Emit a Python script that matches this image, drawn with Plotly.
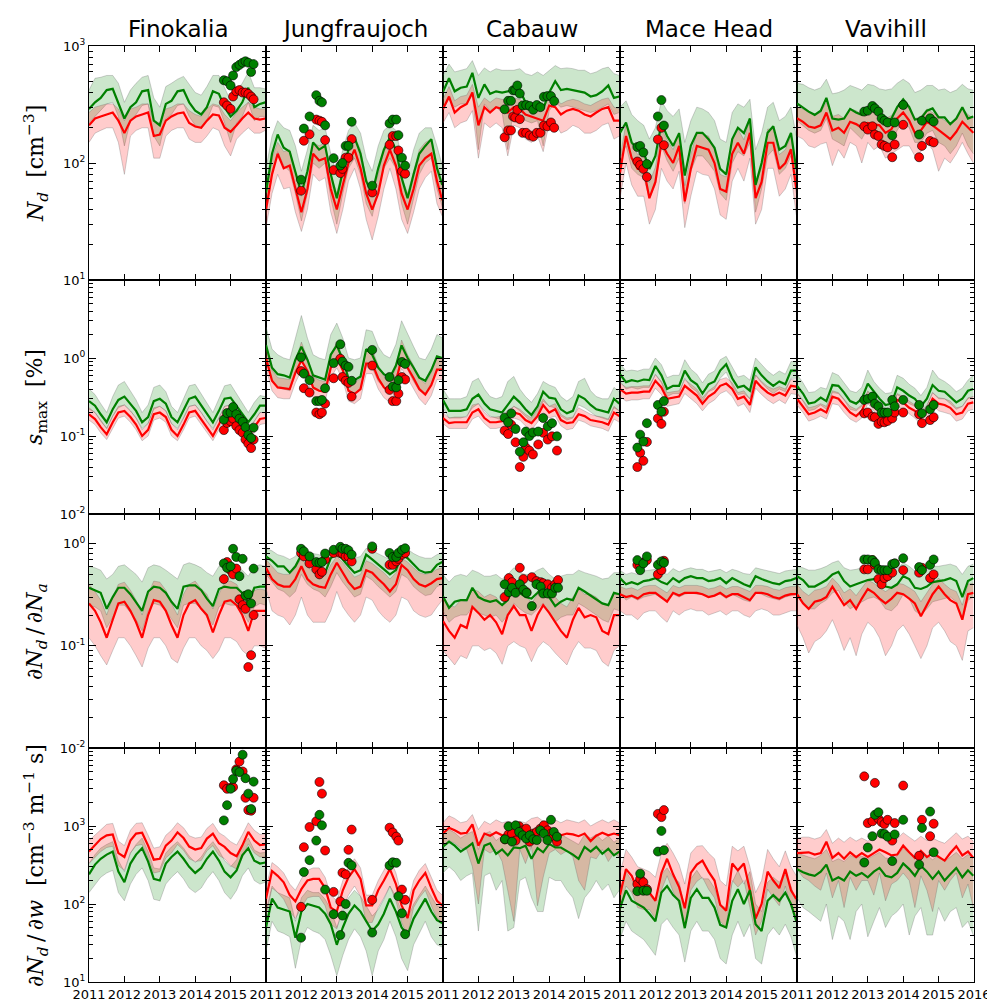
import plotly.graph_objects as go
from plotly.subplots import make_subplots

# time grid of the model series (decimal years, every two months)
t_grid = [2011.0, 2011.17, 2011.33, 2011.5, 2011.67, 2011.83,
          2012.0, 2012.17, 2012.33, 2012.5, 2012.67, 2012.83,
          2013.0, 2013.17, 2013.33, 2013.5, 2013.67, 2013.83,
          2014.0, 2014.17, 2014.33, 2014.5, 2014.67, 2014.83,
          2015.0, 2015.17, 2015.33, 2015.5, 2015.67, 2015.83, 2015.98]

stations = ["Finokalia", "Jungfraujoch", "Cabauw", "Mace Head", "Vavihill"]
years = [2011, 2012, 2013, 2014, 2015, 2016]

# ---------------- N_d ----------------
fin_nd_g = [290,330,360,420,430,330, 240,300,330,410,420,230, 210,320,340,410,420,330, 280,260,300,410,390,300, 250,280,330,440,300,320, 330]
fin_nd_g_hi = [420,530,540,560,560,480, 330,420,480,540,560,360, 300,450,480,520,550,470, 400,380,450,560,560,440, 340,420,480,600,440,440, 430]
fin_nd_g_lo = [220,250,280,320,330,250, 140,230,260,310,320,170, 140,240,260,310,320,250, 210,200,230,310,300,220, 150,220,250,330,230,250, 250]
fin_nd_r = [210,240,250,260,270,230, 180,230,250,260,270,170, 175,230,250,265,270,220, 205,200,230,260,255,200, 185,210,240,270,240,235, 240]
fin_nd_r_hi = [270,300,310,320,320,290, 230,290,300,320,320,230, 220,290,300,320,320,280, 260,250,290,320,310,260, 230,270,300,330,300,290, 290]
fin_nd_r_lo = [150,180,190,200,200,150, 80,170,190,200,200,110, 110,170,190,200,200,160, 150,150,170,200,190,140, 115,160,180,200,180,180, 190]

jfj_nd_g = [56,120,175,135,125,85, 55,85,150,130,140,80, 50,85,130,165,120,70, 55,90,130,165,130,75, 50,80,120,140,160,90, 65]
jfj_nd_g_hi = [90,170,230,200,190,140, 85,130,210,190,200,120, 80,130,190,220,180,110, 85,140,190,210,190,110, 80,130,180,200,200,140, 95]
jfj_nd_g_lo = [35,80,125,95,85,55, 32,55,100,90,100,50, 30,55,90,110,80,45, 35,60,90,110,90,45, 30,50,80,100,110,60, 42]
jfj_nd_r = [40,80,120,90,95,60, 38,60,120,105,110,60, 40,65,100,130,90,55, 40,55,95,130,95,55, 40,60,95,110,120,70, 48]
jfj_nd_r_hi = [55,110,150,125,130,85, 52,85,150,140,150,80, 55,90,140,170,130,75, 55,80,130,170,130,75, 55,85,130,150,160,100, 65]
jfj_nd_r_lo = [28,55,80,60,62,38, 26,40,80,70,75,38, 25,40,70,90,60,33, 22,35,60,90,60,33, 25,38,60,75,85,45, 35]

cab_nd_g = [405,530,410,440,450,590, 360,470,390,410,400,410, 420,420,330,310,320,290, 400,500,420,430,420,410, 400,370,380,410,460,360, 370]
cab_nd_g_hi = [560,700,600,620,640,750, 560,650,600,640,620,620, 620,640,580,560,600,560, 620,680,640,650,640,620, 620,580,600,640,660,580, 560]
cab_nd_g_lo = [290,350,300,320,320,380, 130,320,280,300,270,130, 300,290,230,220,230,140, 280,330,300,310,300,290, 280,270,280,300,320,260, 270]
cab_nd_r = [290,370,270,300,320,400, 210,300,270,300,290,270, 300,290,260,250,240,230, 310,300,260,280,290,280, 260,250,270,290,300,230, 230]
cab_nd_r_hi = [350,450,340,370,380,470, 300,360,330,360,350,340, 360,350,320,310,300,290, 370,370,320,340,350,340, 320,310,330,350,360,300, 290]
cab_nd_r_lo = [220,270,200,220,230,280, 110,220,200,220,200,115, 210,200,160,150,170,125, 220,220,180,190,210,200, 180,180,190,210,220,160, 170]

mhd_nd_g = [181,222,150,131,123,89, 115,220,170,140,180,78, 140,181,181,160,135,89, 80,160,200,180,240,65, 100,181,206,130,140,181, 89]
mhd_nd_g_hi = [300,340,260,230,210,160, 200,340,280,250,290,150, 230,300,290,270,230,160, 150,270,320,300,350,130, 180,300,330,230,250,300, 170]
mhd_nd_g_lo = [110,140,90,80,75,50, 65,140,105,85,110,45, 85,115,115,100,85,55, 48,100,125,115,150,38, 60,115,130,80,90,115, 55]
mhd_nd_r = [83,170,110,89,89,50, 69,149,120,100,140,47, 89,140,135,130,100,60, 57,120,149,120,181,50, 69,149,149,89,100,131, 60]
mhd_nd_r_hi = [110,220,145,118,118,68, 92,195,158,130,182,64, 118,182,176,170,130,80, 76,158,195,158,235,66, 92,195,195,118,130,170, 80]
mhd_nd_r_lo = [50,100,65,52,52,30, 40,90,70,60,85,28, 52,85,80,78,60,36, 33,70,90,70,110,30, 40,90,90,52,60,80, 36]

vav_nd_g = [323,295,275,258,280,360, 240,235,240,290,270,258, 300,295,270,225,240,300, 350,300,235,240,280,293, 245,245,215,240,300,240, 250]
vav_nd_g_hi = [480,470,440,420,440,520, 390,400,420,460,440,420, 470,460,430,420,430,480, 520,480,400,420,460,460, 420,430,400,420,470,430, 420]
vav_nd_g_lo = [230,210,190,180,190,240, 160,150,140,200,180,160, 200,190,170,140,150,190, 230,200,150,150,180,190, 150,140,120,140,180,140, 120]
vav_nd_r = [241,225,205,200,210,270, 190,200,181,225,215,200, 220,215,210,181,195,240, 270,230,181,190,225,210, 190,175,160,185,225,200, 181]
vav_nd_r_hi = [300,290,270,260,270,330, 250,260,240,290,280,260, 280,280,270,240,255,300, 330,290,240,250,290,270, 250,230,215,245,290,260, 240]
vav_nd_r_lo = [170,160,140,135,145,150, 95,130,110,150,140,100, 150,130,140,110,120,130, 140,140,115,125,150,130, 85,110,100,120,150,120, 100]

# ---------------- s_max [%] ----------------
fin_smax_g = [0.28,0.245,0.19,0.15,0.22,0.29, 0.32,0.26,0.21,0.15,0.175,0.28, 0.3,0.26,0.175,0.15,0.21,0.3, 0.32,0.245,0.19,0.15,0.21,0.3, 0.31,0.245,0.19,0.15,0.19,0.245, 0.245]
fin_smax_g_hi = [0.4,0.34,0.26,0.2,0.32,0.45, 0.5,0.38,0.29,0.2,0.25,0.42, 0.45,0.37,0.24,0.2,0.3,0.44, 0.46,0.35,0.26,0.2,0.3,0.44, 0.46,0.35,0.26,0.2,0.27,0.33, 0.32]
fin_smax_g_lo = [0.22,0.2,0.155,0.125,0.18,0.23, 0.25,0.21,0.17,0.125,0.145,0.22, 0.24,0.21,0.145,0.125,0.17,0.24, 0.25,0.2,0.155,0.125,0.17,0.24, 0.25,0.2,0.155,0.125,0.155,0.2, 0.2]
fin_smax_r = [0.19,0.165,0.13,0.105,0.15,0.2, 0.21,0.175,0.14,0.1,0.12,0.19, 0.2,0.175,0.12,0.1,0.14,0.2, 0.21,0.165,0.13,0.1,0.14,0.2, 0.21,0.165,0.13,0.1,0.13,0.165, 0.17]
fin_smax_r_hi = [0.23,0.2,0.16,0.125,0.18,0.24, 0.25,0.21,0.17,0.12,0.145,0.23, 0.24,0.21,0.145,0.12,0.17,0.24, 0.25,0.2,0.155,0.12,0.17,0.24, 0.25,0.2,0.155,0.12,0.155,0.2, 0.2]
fin_smax_r_lo = [0.16,0.14,0.11,0.09,0.125,0.17, 0.18,0.15,0.12,0.087,0.1,0.16, 0.17,0.15,0.1,0.087,0.12,0.17, 0.18,0.14,0.11,0.087,0.12,0.17, 0.18,0.14,0.11,0.087,0.11,0.14, 0.145]

jfj_smax_g = [1.47,0.75,0.62,0.6,0.56,0.95, 1.4,0.95,0.6,0.56,0.53,1.1, 1.45,0.95,0.55,0.52,0.58,1.3, 1.1,0.75,0.62,0.56,0.8,1.45, 1.0,0.75,0.56,0.51,0.7,1.05, 1.0]
jfj_smax_g_hi = [2.5,1.3,1.1,1.0,0.95,1.8, 3.5,1.8,1.1,1.0,0.95,2.0, 2.8,1.8,1.0,0.95,1.0,2.3, 2.2,1.4,1.1,1.0,1.5,3.0, 2.0,1.4,1.0,0.95,1.3,2.0, 1.8]
jfj_smax_g_lo = [1.0,0.5,0.42,0.4,0.38,0.62, 0.95,0.65,0.4,0.38,0.36,0.75, 1.0,0.65,0.38,0.35,0.4,0.9, 0.75,0.5,0.42,0.38,0.55,1.0, 0.7,0.5,0.38,0.35,0.48,0.72, 0.7]
jfj_smax_r = [1.0,0.51,0.42,0.41,0.4,0.65, 0.93,0.68,0.42,0.38,0.37,0.75, 1.0,0.7,0.38,0.345,0.4,0.85, 0.85,0.55,0.42,0.36,0.5,0.98, 0.75,0.55,0.4,0.34,0.45,0.71, 0.71]
jfj_smax_r_hi = [1.3,0.7,0.56,0.55,0.53,0.9, 1.6,1.0,0.58,0.52,0.5,1.1, 1.6,1.0,0.52,0.48,0.55,1.3, 1.3,0.8,0.58,0.5,0.75,1.7, 1.1,0.8,0.55,0.47,0.65,1.0, 1.0]
jfj_smax_r_lo = [0.75,0.38,0.31,0.3,0.3,0.48, 0.7,0.5,0.31,0.28,0.28,0.56, 0.75,0.52,0.28,0.26,0.3,0.63, 0.63,0.4,0.31,0.27,0.37,0.73, 0.55,0.4,0.3,0.25,0.33,0.53, 0.53]

cab_smax_g = [0.29,0.21,0.21,0.21,0.22,0.3, 0.34,0.26,0.22,0.21,0.2,0.25, 0.32,0.27,0.22,0.186,0.24,0.37, 0.31,0.3,0.22,0.195,0.21,0.33, 0.3,0.25,0.22,0.21,0.2,0.3, 0.26]
cab_smax_g_hi = [0.4,0.3,0.3,0.3,0.32,0.5, 0.55,0.4,0.32,0.3,0.32,0.5, 0.58,0.4,0.32,0.27,0.35,0.5, 0.45,0.42,0.32,0.28,0.32,0.5, 0.55,0.38,0.32,0.3,0.3,0.42, 0.37]
cab_smax_g_lo = [0.23,0.17,0.17,0.17,0.18,0.23, 0.26,0.21,0.18,0.17,0.16,0.19, 0.24,0.21,0.18,0.15,0.19,0.28, 0.24,0.23,0.18,0.16,0.17,0.25, 0.23,0.2,0.18,0.17,0.16,0.23, 0.21]
cab_smax_r = [0.17,0.146,0.15,0.15,0.15,0.2, 0.22,0.17,0.15,0.15,0.155,0.17, 0.2,0.19,0.16,0.146,0.18,0.25, 0.2,0.22,0.16,0.146,0.15,0.19, 0.18,0.16,0.155,0.15,0.14,0.2, 0.18]
cab_smax_r_hi = [0.2,0.17,0.175,0.175,0.175,0.25, 0.26,0.2,0.175,0.175,0.18,0.21, 0.24,0.22,0.19,0.17,0.22,0.3, 0.24,0.26,0.19,0.17,0.175,0.23, 0.21,0.19,0.18,0.175,0.165,0.24, 0.21]
cab_smax_r_lo = [0.145,0.125,0.125,0.125,0.125,0.165, 0.18,0.145,0.125,0.125,0.13,0.14, 0.17,0.16,0.135,0.12,0.15,0.2, 0.17,0.18,0.135,0.12,0.125,0.16, 0.15,0.135,0.13,0.125,0.115,0.165, 0.15]

mhd_smax_g = [0.62,0.49,0.52,0.5,0.53,0.52, 0.79,0.6,0.4,0.44,0.44,0.69, 0.52,0.46,0.35,0.46,0.5,0.69, 0.83,0.55,0.42,0.44,0.38,0.76, 0.6,0.5,0.44,0.5,0.46,0.69, 0.69]
mhd_smax_g_hi = [0.85,0.68,0.7,0.68,0.72,0.72, 1.0,0.82,0.56,0.6,0.6,0.95, 0.72,0.62,0.48,0.62,0.68,0.95, 1.05,0.75,0.57,0.6,0.52,1.0, 0.82,0.68,0.6,0.68,0.62,0.9, 0.9]
mhd_smax_g_lo = [0.5,0.4,0.42,0.4,0.42,0.42, 0.62,0.48,0.32,0.35,0.35,0.55, 0.42,0.37,0.28,0.37,0.4,0.55, 0.66,0.44,0.34,0.35,0.3,0.6, 0.48,0.4,0.35,0.4,0.37,0.55, 0.55]
mhd_smax_r = [0.4,0.35,0.36,0.36,0.37,0.37, 0.51,0.42,0.3,0.31,0.32,0.44, 0.38,0.33,0.26,0.32,0.36,0.44, 0.47,0.4,0.3,0.32,0.25,0.51, 0.42,0.36,0.33,0.36,0.33,0.44, 0.43]
mhd_smax_r_hi = [0.48,0.42,0.43,0.43,0.44,0.44, 0.61,0.5,0.36,0.37,0.38,0.53, 0.46,0.4,0.31,0.38,0.43,0.53, 0.56,0.48,0.36,0.38,0.3,0.61, 0.5,0.43,0.4,0.43,0.4,0.53, 0.52]
mhd_smax_r_lo = [0.32,0.28,0.29,0.29,0.3,0.3, 0.41,0.34,0.24,0.25,0.26,0.35, 0.3,0.26,0.21,0.26,0.29,0.35, 0.38,0.32,0.24,0.26,0.2,0.41, 0.34,0.29,0.26,0.29,0.26,0.35, 0.34]

vav_smax_g = [0.44,0.35,0.26,0.27,0.31,0.28, 0.45,0.44,0.36,0.28,0.26,0.3, 0.47,0.37,0.3,0.25,0.26,0.42, 0.38,0.33,0.3,0.24,0.3,0.45, 0.38,0.37,0.32,0.27,0.3,0.38, 0.4]
vav_smax_g_hi = [0.62,0.48,0.36,0.37,0.42,0.4, 0.65,0.6,0.48,0.38,0.36,0.42, 0.7,0.5,0.41,0.35,0.36,0.6, 0.55,0.46,0.41,0.33,0.42,0.7, 0.55,0.5,0.44,0.37,0.41,0.52, 0.6]
vav_smax_g_lo = [0.35,0.28,0.21,0.22,0.25,0.22, 0.36,0.35,0.29,0.22,0.21,0.24, 0.37,0.3,0.24,0.2,0.21,0.34, 0.3,0.26,0.24,0.19,0.24,0.36, 0.3,0.3,0.26,0.22,0.24,0.3, 0.32]
vav_smax_r = [0.3,0.24,0.19,0.2,0.22,0.2, 0.32,0.3,0.25,0.2,0.18,0.21, 0.32,0.26,0.21,0.17,0.18,0.29, 0.27,0.23,0.21,0.17,0.21,0.3, 0.26,0.25,0.23,0.19,0.2,0.26, 0.27]
vav_smax_r_hi = [0.36,0.29,0.23,0.24,0.26,0.24, 0.38,0.36,0.3,0.24,0.22,0.25, 0.38,0.31,0.25,0.2,0.22,0.35, 0.32,0.28,0.25,0.2,0.25,0.36, 0.31,0.3,0.28,0.23,0.24,0.31, 0.32]
vav_smax_r_lo = [0.25,0.2,0.155,0.165,0.18,0.165, 0.26,0.25,0.2,0.165,0.15,0.17, 0.26,0.21,0.17,0.14,0.15,0.24, 0.22,0.19,0.17,0.14,0.17,0.25, 0.21,0.2,0.19,0.155,0.165,0.21, 0.22]

# ---------------- dN_d/dN_a ----------------
fin_dnda_g = [0.37,0.35,0.33,0.23,0.3,0.37, 0.37,0.32,0.27,0.22,0.34,0.38, 0.37,0.33,0.27,0.23,0.38,0.39, 0.39,0.35,0.29,0.245,0.36,0.38, 0.37,0.37,0.33,0.26,0.37,0.38, 0.38]
fin_dnda_g_hi = [0.6,0.58,0.55,0.45,0.5,0.6, 0.62,0.55,0.5,0.42,0.58,0.62, 0.6,0.55,0.5,0.45,0.62,0.65, 0.62,0.58,0.52,0.48,0.6,0.62, 0.62,0.6,0.55,0.48,0.6,0.62, 0.6]
fin_dnda_g_lo = [0.25,0.24,0.22,0.15,0.19,0.25, 0.25,0.21,0.18,0.14,0.22,0.26, 0.25,0.22,0.18,0.15,0.25,0.26, 0.26,0.23,0.19,0.16,0.24,0.26, 0.25,0.25,0.22,0.17,0.24,0.26, 0.25]
fin_dnda_r = [0.26,0.22,0.17,0.12,0.18,0.26, 0.27,0.22,0.17,0.12,0.2,0.28, 0.27,0.22,0.16,0.12,0.2,0.26, 0.28,0.23,0.2,0.135,0.2,0.27, 0.28,0.25,0.2,0.14,0.22,0.22, 0.22]
fin_dnda_r_hi = [0.4,0.34,0.28,0.2,0.3,0.4, 0.42,0.35,0.28,0.2,0.32,0.43, 0.42,0.35,0.26,0.2,0.32,0.4, 0.43,0.36,0.32,0.23,0.32,0.42, 0.43,0.4,0.32,0.24,0.35,0.36, 0.35]
fin_dnda_r_lo = [0.12,0.1,0.08,0.065,0.09,0.12, 0.12,0.1,0.08,0.062,0.095,0.12, 0.12,0.1,0.075,0.068,0.095,0.12, 0.12,0.1,0.09,0.075,0.09,0.12, 0.12,0.11,0.09,0.08,0.1,0.1, 0.095]

jfj_dnda_g = [0.75,0.68,0.6,0.6,0.52,0.6, 0.78,0.66,0.63,0.6,0.52,0.72, 0.8,0.7,0.6,0.52,0.55,0.78, 0.7,0.62,0.56,0.5,0.55,0.78, 0.72,0.62,0.55,0.52,0.53,0.62, 0.66]
jfj_dnda_g_hi = [0.9,0.85,0.78,0.75,0.7,0.75, 0.92,0.85,0.8,0.78,0.72,0.82, 0.92,0.85,0.78,0.72,0.75,0.9, 0.85,0.8,0.75,0.7,0.75,0.9, 0.88,0.8,0.75,0.72,0.72,0.78, 0.82]
jfj_dnda_g_lo = [0.5,0.42,0.36,0.34,0.3,0.34, 0.5,0.4,0.36,0.34,0.3,0.38, 0.52,0.42,0.36,0.3,0.32,0.48, 0.44,0.38,0.34,0.3,0.34,0.5, 0.46,0.38,0.34,0.31,0.32,0.38, 0.4]
jfj_dnda_r = [0.58,0.45,0.4,0.38,0.38,0.45, 0.6,0.45,0.4,0.38,0.37,0.5, 0.65,0.52,0.42,0.36,0.38,0.55, 0.52,0.45,0.4,0.34,0.4,0.62, 0.55,0.45,0.4,0.38,0.41,0.45, 0.46]
jfj_dnda_r_hi = [0.7,0.6,0.52,0.5,0.5,0.58, 0.72,0.6,0.52,0.5,0.48,0.62, 0.75,0.65,0.55,0.47,0.5,0.68, 0.64,0.58,0.52,0.45,0.52,0.72, 0.66,0.58,0.52,0.5,0.52,0.56, 0.58]
jfj_dnda_r_lo = [0.36,0.22,0.2,0.19,0.16,0.2, 0.3,0.2,0.17,0.17,0.17,0.22, 0.34,0.24,0.2,0.17,0.2,0.3, 0.28,0.22,0.19,0.17,0.2,0.3, 0.28,0.22,0.2,0.19,0.2,0.24, 0.28]

cab_dnda_g = [0.305,0.235,0.27,0.28,0.28,0.37, 0.3,0.28,0.27,0.28,0.25,0.28, 0.38,0.33,0.3,0.29,0.33,0.38, 0.3,0.245,0.27,0.29,0.28,0.37, 0.34,0.31,0.29,0.26,0.25,0.33, 0.32]
cab_dnda_g_hi = [0.5,0.42,0.48,0.5,0.48,0.55, 0.52,0.48,0.48,0.5,0.45,0.5, 0.58,0.52,0.5,0.5,0.55,0.58, 0.5,0.45,0.48,0.5,0.5,0.55, 0.52,0.5,0.48,0.45,0.46,0.52, 0.52]
cab_dnda_g_lo = [0.22,0.17,0.19,0.2,0.2,0.24, 0.21,0.2,0.19,0.2,0.17,0.2, 0.26,0.23,0.21,0.2,0.23,0.26, 0.21,0.17,0.19,0.2,0.2,0.26, 0.24,0.22,0.2,0.18,0.17,0.23, 0.22]
cab_dnda_r = [0.175,0.14,0.12,0.16,0.15,0.24, 0.21,0.18,0.2,0.17,0.13,0.2, 0.245,0.2,0.2,0.14,0.2,0.25, 0.21,0.17,0.14,0.12,0.18,0.235, 0.19,0.2,0.19,0.14,0.13,0.2, 0.2]
cab_dnda_r_hi = [0.3,0.25,0.24,0.28,0.27,0.36, 0.34,0.3,0.32,0.3,0.25,0.32, 0.36,0.32,0.32,0.26,0.32,0.36, 0.33,0.3,0.26,0.24,0.3,0.36, 0.32,0.32,0.3,0.26,0.25,0.32, 0.32]
cab_dnda_r_lo = [0.09,0.075,0.065,0.08,0.075,0.1, 0.1,0.09,0.095,0.085,0.066,0.1, 0.11,0.1,0.095,0.07,0.095,0.11, 0.1,0.085,0.075,0.065,0.09,0.11, 0.095,0.095,0.09,0.07,0.063,0.09, 0.1]

mhd_dnda_g = [0.46,0.4,0.42,0.4,0.43,0.44, 0.46,0.42,0.4,0.46,0.42,0.46, 0.48,0.46,0.46,0.43,0.44,0.46, 0.41,0.46,0.43,0.4,0.38,0.48, 0.45,0.43,0.41,0.4,0.43,0.44, 0.46]
mhd_dnda_g_hi = [0.55,0.5,0.52,0.5,0.54,0.55, 0.56,0.53,0.5,0.57,0.53,0.56, 0.58,0.56,0.56,0.53,0.55,0.56, 0.52,0.56,0.54,0.51,0.5,0.58, 0.56,0.54,0.52,0.51,0.54,0.55, 0.56]
mhd_dnda_g_lo = [0.33,0.28,0.3,0.28,0.3,0.31, 0.32,0.29,0.28,0.32,0.3,0.32, 0.33,0.32,0.32,0.3,0.31,0.32, 0.29,0.32,0.3,0.28,0.27,0.33, 0.32,0.3,0.29,0.28,0.3,0.31, 0.32]
mhd_dnda_r = [0.32,0.3,0.31,0.29,0.32,0.33, 0.33,0.3,0.27,0.33,0.31,0.33, 0.33,0.33,0.32,0.3,0.31,0.33, 0.3,0.32,0.32,0.3,0.28,0.33, 0.33,0.32,0.3,0.29,0.31,0.32, 0.32]
mhd_dnda_r_hi = [0.38,0.36,0.37,0.35,0.38,0.39, 0.39,0.36,0.33,0.39,0.37,0.39, 0.39,0.39,0.38,0.36,0.37,0.39, 0.36,0.38,0.38,0.36,0.34,0.39, 0.39,0.38,0.36,0.35,0.37,0.38, 0.38]
mhd_dnda_r_lo = [0.22,0.2,0.2,0.18,0.21,0.22, 0.22,0.19,0.17,0.22,0.2,0.22, 0.23,0.22,0.22,0.2,0.21,0.22, 0.2,0.22,0.22,0.2,0.19,0.22, 0.23,0.22,0.2,0.2,0.21,0.22, 0.22]

vav_dnda_g = [0.48,0.44,0.38,0.38,0.41,0.44, 0.5,0.53,0.43,0.38,0.4,0.42, 0.44,0.45,0.43,0.38,0.37,0.4, 0.48,0.45,0.37,0.36,0.38,0.42, 0.43,0.44,0.46,0.43,0.3,0.43, 0.46]
vav_dnda_g_hi = [0.6,0.58,0.55,0.55,0.57,0.6, 0.65,0.68,0.58,0.55,0.56,0.58, 0.62,0.62,0.6,0.55,0.53,0.57, 0.65,0.6,0.54,0.52,0.55,0.6, 0.6,0.62,0.63,0.6,0.5,0.6, 0.63]
vav_dnda_g_lo = [0.3,0.27,0.23,0.23,0.26,0.28, 0.33,0.35,0.27,0.23,0.25,0.27, 0.29,0.3,0.28,0.23,0.22,0.25, 0.32,0.29,0.22,0.2,0.23,0.27, 0.28,0.29,0.3,0.27,0.18,0.28, 0.3]
vav_dnda_r = [0.32,0.26,0.23,0.27,0.28,0.3, 0.38,0.31,0.25,0.28,0.23,0.29, 0.36,0.33,0.29,0.26,0.29,0.33, 0.32,0.29,0.26,0.195,0.25,0.32, 0.38,0.32,0.28,0.26,0.18,0.32, 0.33]
vav_dnda_r_hi = [0.4,0.34,0.31,0.35,0.36,0.38, 0.46,0.4,0.33,0.36,0.31,0.37, 0.44,0.41,0.37,0.34,0.37,0.41, 0.4,0.37,0.34,0.27,0.33,0.4, 0.46,0.4,0.36,0.34,0.25,0.4, 0.41]
vav_dnda_r_lo = [0.16,0.12,0.085,0.11,0.12,0.14, 0.18,0.13,0.09,0.12,0.08,0.13, 0.17,0.15,0.12,0.08,0.1,0.14, 0.16,0.13,0.1,0.075,0.1,0.15, 0.17,0.14,0.11,0.1,0.072,0.14, 0.15]

# ---------------- dN_d/dw ----------------
fin_dndw_r = [470,560,680,760,780,450, 400,650,800,820,560,370, 380,560,650,830,700,545, 500,520,690,800,600,540, 450,410,560,840,650,570, 580]
fin_dndw_r_hi = [650,760,900,1050,1080,640, 560,880,1080,1100,760,520, 540,760,880,1100,950,750, 700,720,930,1080,820,740, 630,570,770,1100,880,780, 790]
fin_dndw_r_lo = [330,390,470,530,550,310, 270,450,560,580,390,250, 260,390,450,580,490,380, 350,360,480,560,420,380, 310,280,390,590,450,400, 400]
fin_dndw_g = [240,320,380,430,470,260, 190,330,430,520,350,210, 200,330,400,470,380,300, 250,290,380,470,360,260, 220,270,420,520,360,330, 340]
fin_dndw_g_hi = [330,430,520,580,630,360, 260,450,580,700,470,290, 280,450,540,630,520,410, 340,400,520,630,490,360, 300,370,570,700,490,450, 460]
fin_dndw_g_lo = [140,180,220,250,270,140, 110,180,240,290,200,115, 110,180,220,260,210,160, 140,160,210,260,200,140, 115,150,230,290,200,180, 190]

jfj_dndw_r = [117,265,230,190,130,108, 155,200,210,210,160,90, 80,150,220,280,210,96, 96,150,200,280,180,96, 66,150,200,250,160,110, 96]
jfj_dndw_r_hi = [160,340,300,250,180,150, 210,270,290,290,220,130, 110,200,300,380,290,130, 130,200,270,380,250,130, 100,200,270,330,220,150, 130]
jfj_dndw_r_lo = [70,160,140,115,80,65, 90,120,125,125,95,55, 48,90,130,170,125,58, 58,90,120,170,110,58, 40,90,120,150,95,66, 58]
jfj_dndw_g = [50,117,90,85,80,37, 80,100,95,90,75,55, 30,50,75,96,80,60, 45,55,75,117,80,50, 40,65,85,117,80,62, 57]
jfj_dndw_g_hi = [80,170,140,130,120,60, 120,150,140,140,115,85, 50,80,120,150,125,95, 70,85,115,170,125,80, 65,100,130,170,125,95, 90]
jfj_dndw_g_lo = [25,60,45,42,38,15, 35,50,45,42,35,22, 12,22,35,48,38,25, 12,25,35,60,38,20, 14,30,42,60,38,30, 28]

cab_dndw_r = [800,950,880,800,820,1050, 560,800,750,830,760,800, 780,800,760,850,870,780, 790,830,760,800,780,740, 800,640,750,820,760,800, 760]
cab_dndw_r_hi = [1100,1350,1250,1100,1150,1400, 900,1150,1050,1200,1100,1150, 1100,1150,1100,1250,1300,1150, 1150,1200,1100,1200,1150,1100, 1200,1000,1100,1200,1100,1200, 1100]
cab_dndw_r_lo = [550,650,600,520,500,300, 100,500,450,500,350,150, 60,500,330,550,95,220, 450,500,430,480,400,200, 150,400,380,500,350,450, 400]
cab_dndw_g = [545,630,560,470,530,600, 330,560,600,440,500,420, 530,520,560,380,520,460, 590,530,530,480,430,380, 540,470,540,440,510,420, 470]
cab_dndw_g_hi = [800,900,820,700,780,850, 500,800,850,650,750,620, 780,770,800,580,760,680, 850,770,780,700,640,580, 780,700,780,650,750,620, 700]
cab_dndw_g_lo = [250,300,260,200,230,250, 45,230,250,150,200,45, 50,200,220,120,80,80, 220,200,200,150,120,65, 120,150,200,150,180,120, 150]

mhd_dndw_r = [130,280,230,150,140,140, 110,250,380,240,165,88, 250,320,360,260,200,98, 82,330,270,330,150,65, 100,260,200,160,280,150, 116]
mhd_dndw_r_hi = [250,500,400,300,280,260, 220,450,600,450,320,180, 450,550,560,450,380,200, 170,550,480,550,300,140, 200,500,380,300,480,300, 230]
mhd_dndw_r_lo = [80,170,140,90,85,85, 65,150,230,145,100,53, 150,195,220,155,120,60, 50,200,165,200,90,40, 60,155,120,95,170,90, 70]
mhd_dndw_g = [88,150,110,100,90,75, 60,140,170,130,110,49, 120,155,120,120,90,54, 50,110,155,100,150,55, 45,110,130,110,140,100, 60]
mhd_dndw_g_hi = [150,260,200,170,160,130, 110,240,290,220,190,90, 210,270,210,210,160,95, 90,190,270,180,260,100, 80,190,220,190,240,170, 105]
mhd_dndw_g_lo = [35,60,45,40,35,28, 22,55,65,50,40,18, 45,60,45,45,35,20, 17,40,60,38,55,20, 17,40,50,40,55,38, 22]

vav_dndw_r = [450,450,460,430,450,630, 390,450,380,460,400,450, 400,450,500,460,420,430, 560,460,390,480,400,450, 400,360,450,550,420,470, 390]
vav_dndw_r_hi = [700,720,720,680,720,900, 600,700,620,720,640,700, 640,700,760,700,660,680, 820,720,640,740,650,700, 640,600,700,820,680,740, 640]
vav_dndw_r_lo = [280,220,200,170,150,250, 120,200,90,220,150,200, 200,130,250,110,180,200, 250,200,90,230,150,80, 200,150,200,250,120,180, 90]
vav_dndw_g = [280,255,240,230,260,320, 200,220,200,260,230,250, 220,260,290,230,220,250, 330,280,230,310,260,210, 260,200,240,290,220,270, 230]
vav_dndw_g_hi = [450,420,400,380,420,500, 350,380,350,420,390,410, 380,420,460,390,380,410, 520,450,390,480,420,370, 420,350,400,460,380,430, 390]
vav_dndw_g_lo = [120,90,80,70,60,100, 35,70,60,35,80,100, 38,60,90,50,70,80, 100,40,70,90,40,40, 90,60,80,90,50,60, 40]

# ---------------- observation-based points ----------------
fin_obs_t = [2014.81, 2014.9, 2015.0, 2015.07, 2015.16, 2015.25, 2015.34, 2015.42, 2015.5, 2015.58, 2015.65]
fin_nd_obs_g = [510, 500, 460, 560, 660, 690, 720, 740, 720, 600, 700]
fin_nd_obs_r = [330, 310, 290, 370, 410, 420, 400, 400, 390, 370, 350]
fin_smax_obs_g = [0.162, 0.197, 0.2, 0.235, 0.19, 0.167, 0.152, 0.13, 0.103, 0.094, 0.128]
fin_smax_obs_r = [0.119, 0.147, 0.155, 0.167, 0.134, 0.119, 0.11, 0.09, 0.08, 0.07, 0.09]
fin_dnda_obs_g = [0.64, 0.58, 0.6, 0.89, 0.74, 0.48, 0.71, 0.31, 0.32, 0.26, 0.57]
fin_dnda_obs_r = [0.45, 0.66, 0.55, 0.5, 0.57, 0.285, 0.25, 0.23, 0.062, 0.081, 0.2]
fin_dndw_obs_g = [1180, 1850, 3000, 4000, 5100, 4900, 8200, 4100, 2600, 1650, 3700]
fin_dndw_obs_r = [3330, 3000, 3100, 3150, 5330, 6700, 5000, 2300, 1600, 1570, 2300]

jfj_obs_t = [2011.99, 2012.07, 2012.23, 2012.42, 2012.51, 2012.58, 2012.67, 2012.91, 2013.1, 2013.16,
             2013.25, 2013.33, 2013.42, 2014.0, 2014.49, 2014.58, 2014.68, 2014.74, 2014.84, 2014.93]
jfj_nd_obs_g = [72, 197, 250, 380, 340, 330, 210, 110, 95, 100, 140, 140, 225, 64, 218, 235, 235, 173, 111, 95]
jfj_nd_obs_r = [58, 155, 176, 235, 230, 225, 157, 87, 82, 89, 111, 111, 160, 56, 143, 170, 170, 128, 85, 81]
jfj_smax_obs_g = [1.02, 0.63, 0.52, 0.28, 0.28, 0.29, 0.41, 0.86, 1.5, 0.9, 0.8, 0.77, 0.51, 1.27, 0.57, 0.43, 0.42, 0.52, 0.89, 0.84]
jfj_smax_obs_r = [0.68, 0.41, 0.36, 0.2, 0.19, 0.2, 0.26, 0.55, 0.98, 0.57, 0.51, 0.48, 0.32, 0.8, 0.39, 0.28, 0.28, 0.35, 0.57, 0.53]
jfj_dnda_obs_g = [0.89, 0.84, 0.75, 0.66, 0.65, 0.66, 0.8, 0.87, 0.93, 0.89, 0.89, 0.86, 0.78, 0.94, 0.81, 0.74, 0.74, 0.81, 0.87, 0.9]
jfj_dnda_obs_r = [0.81, 0.75, 0.64, 0.56, 0.5, 0.53, 0.7, 0.81, 0.81, 0.8, 0.75, 0.75, 0.67, 0.89, 0.62, 0.62, 0.67, 0.71, 0.78, 0.81]
jfj_dndw_obs_g = [37, 257, 365, 650, 1390, 1020, 153, 74, 40, 71, 100, 337, 312, 43, 312, 343, 337, 126, 76, 41]
jfj_dndw_obs_r = [92, 535, 970, 1150, 3670, 2600, 485, 143, 108, 252, 240, 495, 900, 113, 950, 825, 730, 650, 153, 113]

cab_nd_obs_t = [2012.74, 2012.84, 2012.92, 2012.98, 2013.04, 2013.1, 2013.17, 2013.25, 2013.35, 2013.45,
                2013.55, 2013.65, 2013.75, 2013.85, 2013.95, 2014.05, 2014.14]
cab_nd_obs_g = [288, 340, 340, 418, 418, 460, 392, 310, 313, 307, 285, 313, 300, 368, 373, 373, 338]
cab_nd_obs_r = [166, 190, 190, 250, 245, 285, 237, 181, 181, 172, 168, 181, 181, 209, 206, 222, 200]
cab_smax_obs_t = [2012.74, 2012.84, 2012.93, 2013.05, 2013.17, 2013.27, 2013.34, 2013.44, 2013.54, 2013.69,
                  2013.83, 2013.96, 2014.08, 2014.22]
cab_smax_obs_g = [0.172, 0.15, 0.195, 0.123, 0.063, 0.083, 0.114, 0.1, 0.111, 0.114, 0.17, 0.133, 0.146, 0.099]
cab_smax_obs_r = [0.117, 0.106, 0.139, 0.083, 0.04, 0.054, 0.071, 0.065, 0.058, 0.078, 0.11, 0.09, 0.099, 0.065]
cab_dnda_obs_t = [2012.74, 2012.86, 2012.95, 2013.05, 2013.17, 2013.27, 2013.36, 2013.51, 2013.64, 2013.76,
                  2013.83, 2013.96, 2014.08, 2014.17, 2014.25]
cab_dnda_obs_g = [0.4, 0.335, 0.37, 0.33, 0.4, 0.355, 0.33, 0.245, 0.4, 0.38, 0.325, 0.325, 0.325, 0.37, 0.37]
cab_dnda_obs_r = [0.3, 0.46, 0.42, 0.355, 0.58, 0.45, 0.335, 0.47, 0.43, 0.42, 0.41, 0.4, 0.37, 0.4, 0.44]
cab_dndw_obs_t = [2012.75, 2012.85, 2012.95, 2013.05, 2013.15, 2013.25, 2013.35, 2013.45, 2013.55, 2013.65,
                  2013.75, 2013.85, 2013.95, 2014.05, 2014.13, 2014.22]
cab_dndw_obs_g = [675, 990, 630, 1020, 840, 760, 690, 760, 675, 660, 880, 800, 660, 1200, 840, 730]
cab_dndw_obs_r = [675, 780, 800, 650, 990, 880, 925, 630, 800, 840, 925, 1020, 880, 800, 730, 630]

mhd_obs_t = [2011.49, 2011.57, 2011.66, 2011.76, 2012.07, 2012.17, 2012.24]
mhd_nd_obs_g = [137, 140, 123, 98, 250, 345, 209]
mhd_nd_obs_r = [103, 96, 89, 76, 159, 200, 142]
mhd_smax_obs_g = [0.071, 0.104, 0.085, 0.146, 0.25, 0.205, 0.28]
mhd_smax_obs_r = [0.04, 0.061, 0.048, 0.084, 0.168, 0.143, 0.205]
mhd_dnda_obs_g = [0.69, 0.55, 0.64, 0.75, 0.62, 0.67, 0.65]
mhd_dnda_obs_r = [0.62, 0.61, 0.65, 0.69, 0.5, 0.55, 0.68]
mhd_dndw_obs_g = [146, 245, 148, 148, 470, 865, 490]
mhd_dndw_obs_r = [180, 210, 190, 155, 1430, 1300, 1600]

vav_obs_t = [2012.9, 2013.0, 2013.13, 2013.2, 2013.3, 2013.39, 2013.47, 2013.56, 2013.69, 2013.76,
             2014.0, 2014.45, 2014.53, 2014.76, 2014.86]
vav_nd_obs_g = [275, 280, 307, 293, 275, 241, 230, 222, 172, 222, 313, 175, 230, 241, 226]
vav_nd_obs_r = [206, 193, 206, 175, 170, 144, 140, 136, 112, 144, 212, 112, 140, 154, 150]
vav_smax_obs_g = [0.29, 0.3, 0.32, 0.26, 0.24, 0.2, 0.2, 0.2, 0.29, 0.24, 0.29, 0.25, 0.195, 0.22, 0.25]
vav_smax_obs_r = [0.195, 0.2, 0.177, 0.174, 0.143, 0.153, 0.15, 0.156, 0.168, 0.2, 0.2, 0.19, 0.146, 0.16, 0.174]
vav_dnda_obs_g = [0.7, 0.7, 0.69, 0.65, 0.56, 0.55, 0.55, 0.55, 0.63, 0.64, 0.72, 0.59, 0.55, 0.62, 0.7]
vav_dnda_obs_r = [0.56, 0.56, 0.69, 0.62, 0.45, 0.4, 0.46, 0.48, 0.52, 0.64, 0.55, 0.52, 0.58, 0.46, 0.5]
vav_dndw_obs_g = [340, 530, 740, 1390, 1500, 800, 790, 730, 355, 780, 1200, 320, 945, 1530, 460]
vav_dndw_obs_r = [4330, 1090, 1150, 3570, 1240, 1120, 1060, 1200, 650, 1090, 3300, 415, 1200, 740, 1070]

# panel table: (red, red_lo, red_hi, green, green_lo, green_hi, obs_t, obs_red, obs_green)
panels = [
    [(fin_nd_r, fin_nd_r_lo, fin_nd_r_hi, fin_nd_g, fin_nd_g_lo, fin_nd_g_hi, fin_obs_t, fin_nd_obs_r, fin_nd_obs_g),
     (jfj_nd_r, jfj_nd_r_lo, jfj_nd_r_hi, jfj_nd_g, jfj_nd_g_lo, jfj_nd_g_hi, jfj_obs_t, jfj_nd_obs_r, jfj_nd_obs_g),
     (cab_nd_r, cab_nd_r_lo, cab_nd_r_hi, cab_nd_g, cab_nd_g_lo, cab_nd_g_hi, cab_nd_obs_t, cab_nd_obs_r, cab_nd_obs_g),
     (mhd_nd_r, mhd_nd_r_lo, mhd_nd_r_hi, mhd_nd_g, mhd_nd_g_lo, mhd_nd_g_hi, mhd_obs_t, mhd_nd_obs_r, mhd_nd_obs_g),
     (vav_nd_r, vav_nd_r_lo, vav_nd_r_hi, vav_nd_g, vav_nd_g_lo, vav_nd_g_hi, vav_obs_t, vav_nd_obs_r, vav_nd_obs_g)],
    [(fin_smax_r, fin_smax_r_lo, fin_smax_r_hi, fin_smax_g, fin_smax_g_lo, fin_smax_g_hi, fin_obs_t, fin_smax_obs_r, fin_smax_obs_g),
     (jfj_smax_r, jfj_smax_r_lo, jfj_smax_r_hi, jfj_smax_g, jfj_smax_g_lo, jfj_smax_g_hi, jfj_obs_t, jfj_smax_obs_r, jfj_smax_obs_g),
     (cab_smax_r, cab_smax_r_lo, cab_smax_r_hi, cab_smax_g, cab_smax_g_lo, cab_smax_g_hi, cab_smax_obs_t, cab_smax_obs_r, cab_smax_obs_g),
     (mhd_smax_r, mhd_smax_r_lo, mhd_smax_r_hi, mhd_smax_g, mhd_smax_g_lo, mhd_smax_g_hi, mhd_obs_t, mhd_smax_obs_r, mhd_smax_obs_g),
     (vav_smax_r, vav_smax_r_lo, vav_smax_r_hi, vav_smax_g, vav_smax_g_lo, vav_smax_g_hi, vav_obs_t, vav_smax_obs_r, vav_smax_obs_g)],
    [(fin_dnda_r, fin_dnda_r_lo, fin_dnda_r_hi, fin_dnda_g, fin_dnda_g_lo, fin_dnda_g_hi, fin_obs_t, fin_dnda_obs_r, fin_dnda_obs_g),
     (jfj_dnda_r, jfj_dnda_r_lo, jfj_dnda_r_hi, jfj_dnda_g, jfj_dnda_g_lo, jfj_dnda_g_hi, jfj_obs_t, jfj_dnda_obs_r, jfj_dnda_obs_g),
     (cab_dnda_r, cab_dnda_r_lo, cab_dnda_r_hi, cab_dnda_g, cab_dnda_g_lo, cab_dnda_g_hi, cab_dnda_obs_t, cab_dnda_obs_r, cab_dnda_obs_g),
     (mhd_dnda_r, mhd_dnda_r_lo, mhd_dnda_r_hi, mhd_dnda_g, mhd_dnda_g_lo, mhd_dnda_g_hi, mhd_obs_t, mhd_dnda_obs_r, mhd_dnda_obs_g),
     (vav_dnda_r, vav_dnda_r_lo, vav_dnda_r_hi, vav_dnda_g, vav_dnda_g_lo, vav_dnda_g_hi, vav_obs_t, vav_dnda_obs_r, vav_dnda_obs_g)],
    [(fin_dndw_r, fin_dndw_r_lo, fin_dndw_r_hi, fin_dndw_g, fin_dndw_g_lo, fin_dndw_g_hi, fin_obs_t, fin_dndw_obs_r, fin_dndw_obs_g),
     (jfj_dndw_r, jfj_dndw_r_lo, jfj_dndw_r_hi, jfj_dndw_g, jfj_dndw_g_lo, jfj_dndw_g_hi, jfj_obs_t, jfj_dndw_obs_r, jfj_dndw_obs_g),
     (cab_dndw_r, cab_dndw_r_lo, cab_dndw_r_hi, cab_dndw_g, cab_dndw_g_lo, cab_dndw_g_hi, cab_dndw_obs_t, cab_dndw_obs_r, cab_dndw_obs_g),
     (mhd_dndw_r, mhd_dndw_r_lo, mhd_dndw_r_hi, mhd_dndw_g, mhd_dndw_g_lo, mhd_dndw_g_hi, mhd_obs_t, mhd_dndw_obs_r, mhd_dndw_obs_g),
     (vav_dndw_r, vav_dndw_r_lo, vav_dndw_r_hi, vav_dndw_g, vav_dndw_g_lo, vav_dndw_g_hi, vav_obs_t, vav_dndw_obs_r, vav_dndw_obs_g)],
]

row_labels = [
    "<i>N<sub>d</sub></i>  [cm<sup>−3</sup>]",
    "<i>s</i><sub>max</sub>  [%]",
    "∂<i>N<sub>d</sub></i>\u2009/\u2009∂<i>N<sub>a</sub></i>",
    "∂<i>N<sub>d</sub></i>\u2009/\u2009∂<i>w</i>  [cm<sup>−3</sup> m<sup>−1</sup> s]",
]
# log10 ranges and labelled decades per row
y_ranges = [[1, 3], [-2, 1], [-2, 0.29], [1, 4]]
y_ticks = [[1, 2, 3], [-2, -1, 0], [-2, -1, 0], [1, 2, 3]]

RED = "#ff0000"
GREEN = "#008000"
EDGE = "rgba(90,90,90,0.28)"

fig = make_subplots(rows=4, cols=5, horizontal_spacing=0, vertical_spacing=0)

for ri in range(4):
    for ci in range(5):
        r, r_lo, r_hi, g, g_lo, g_hi, ot, o_r, o_g = panels[ri][ci]
        kw = dict(row=ri + 1, col=ci + 1)
        fig.add_trace(go.Scatter(x=t_grid, y=g_hi, mode="lines", line=dict(color=EDGE, width=1),
                                 hoverinfo="skip", showlegend=False), **kw)
        fig.add_trace(go.Scatter(x=t_grid, y=g_lo, mode="lines", line=dict(color=EDGE, width=1),
                                 fill="tonexty", fillcolor="rgba(0,128,0,0.2)",
                                 hoverinfo="skip", showlegend=False), **kw)
        fig.add_trace(go.Scatter(x=t_grid, y=r_hi, mode="lines", line=dict(color=EDGE, width=1),
                                 hoverinfo="skip", showlegend=False), **kw)
        fig.add_trace(go.Scatter(x=t_grid, y=r_lo, mode="lines", line=dict(color=EDGE, width=1),
                                 fill="tonexty", fillcolor="rgba(255,0,0,0.2)",
                                 hoverinfo="skip", showlegend=False), **kw)
        fig.add_trace(go.Scatter(x=t_grid, y=r, mode="lines", line=dict(color=RED, width=2.2),
                                 showlegend=False), **kw)
        fig.add_trace(go.Scatter(x=t_grid, y=g, mode="lines", line=dict(color=GREEN, width=2.2),
                                 showlegend=False), **kw)
        fig.add_trace(go.Scatter(x=ot, y=o_r, mode="markers",
                                 marker=dict(color=RED, size=9, line=dict(color="black", width=0.6)),
                                 showlegend=False), **kw)
        fig.add_trace(go.Scatter(x=ot, y=o_g, mode="markers",
                                 marker=dict(color=GREEN, size=9, line=dict(color="black", width=0.6)),
                                 showlegend=False), **kw)

        lo, hi = y_ranges[ri]
        minor_vals = [k * 10 ** d for d in range(int(lo) - 1, int(hi) + 1) for k in range(2, 10)]
        fig.update_yaxes(type="log", range=y_ranges[ri],
                         tickmode="array",
                         tickvals=[10 ** d for d in y_ticks[ri]],
                         ticktext=["10<sup>%d</sup>" % d for d in y_ticks[ri]],
                         showticklabels=(ci == 0),
                         ticks="inside", ticklen=7, tickwidth=1, tickcolor="black",
                         minor=dict(tickmode="array", tickvals=minor_vals, ticks="inside",
                                    ticklen=3.5, tickwidth=1, tickcolor="black"),
                         showline=True, linecolor="black", linewidth=1.2, mirror="allticks",
                         showgrid=False, zeroline=False,
                         tickfont=dict(family="DejaVu Sans", size=13, color="black"), **kw)
        # the 2016 label only on the right-most panel (the neighbour's 2011 sits there)
        xt = years if ci == 4 else years[:-1]
        fig.update_xaxes(range=[2011, 2016], tickmode="array", tickvals=xt,
                         ticktext=[str(y) for y in xt],
                         showticklabels=(ri == 3),
                         ticks="inside", ticklen=6, tickwidth=1, tickcolor="black",
                         showline=True, linecolor="black", linewidth=1.2, mirror="allticks",
                         showgrid=False, zeroline=False,
                         tickfont=dict(family="DejaVu Sans", size=13, color="black"), **kw)

annotations = []
for ci, name in enumerate(stations):
    annotations.append(dict(text=name, xref="paper", yref="paper", x=(ci + 0.5) / 5, y=1.018,
                            xanchor="center", yanchor="middle", showarrow=False,
                            font=dict(family="DejaVu Sans", size=23, color="black")))
for ri, lab in enumerate(row_labels):
    annotations.append(dict(text=lab, xref="paper", yref="paper", x=-0.06, y=1 - (ri + 0.5) / 4,
                            xanchor="center", yanchor="middle", textangle=-90, showarrow=False,
                            font=dict(family="DejaVu Serif", size=22, color="black")))

fig.update_layout(width=995, height=1006, margin=dict(l=81, r=17, t=38, b=14),
                  paper_bgcolor="white", plot_bgcolor="white", annotations=annotations,
                  showlegend=False)

fig.write_html("out.html")
